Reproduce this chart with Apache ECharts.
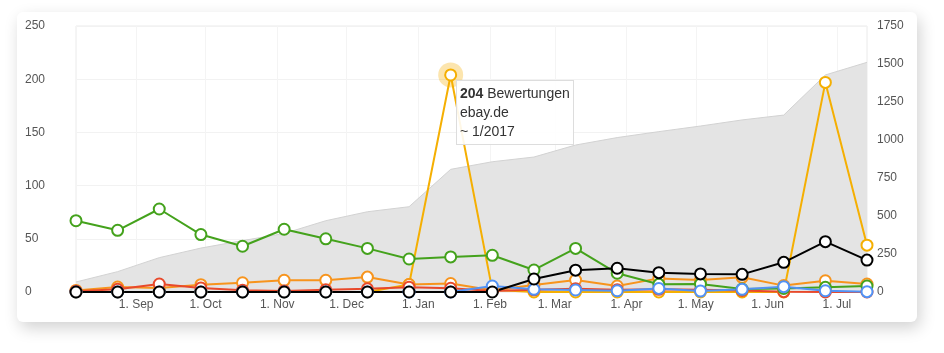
<!DOCTYPE html>
<html lang="de">
<head>
    <meta charset="UTF-8">
    <title>Bewertungen</title>
    <script src="https://cdn.jsdelivr.net/npm/echarts@6/dist/echarts.min.js"></script>
    <style>
        html, body {
            margin: 0;
            border: 0;
            background: #fff;
        }

        #card {
            position: absolute;
            left: 17px;
            top: 12px;
            width: 900px;
            height: 310px;
            background: #fff;
            border-radius: 6px;
            box-shadow: 3px 6px 16px rgba(0, 0, 0, 0.18);
        }

        #chart {
            position: absolute;
            left: 0;
            top: 0;
            width: 944px;
            height: 353px;
        }
    </style>
</head>
<body>
<div id="card"></div>
<div id="chart"></div>
<script type="text/javascript">
    // one point roughly every 18 days
    const dates = ['2016-08-06', '2016-08-24', '2016-09-11', '2016-09-29', '2016-10-17', '2016-11-04',
        '2016-11-22', '2016-12-10', '2016-12-28', '2017-01-15', '2017-02-02', '2017-02-20', '2017-03-10',
        '2017-03-28', '2017-04-15', '2017-05-03', '2017-05-21', '2017-06-08', '2017-06-26', '2017-07-14'];
    const months = ['Jan', 'Feb', 'Mar', 'Apr', 'May', 'Jun', 'Jul', 'Aug', 'Sep', 'Oct', 'Nov', 'Dec'];

    // right axis: running total
    const total = [66, 134, 226, 289, 338, 385, 469, 528, 561, 807, 857, 888, 967, 1016, 1055, 1092, 1132, 1164, 1428, 1511];

    const ebayDe = [0, 0, 0, 0, 0, 0, 0, 0, 7, 204, 2, 0, 0, 0, 0, 0, 0, 0, 197, 44];
    const orange = [1.5, 4.7, 3.8, 6.9, 8.7, 11, 11, 14, 7, 8, 1.6, 6.6, 11.3, 5.6, 12.8, 11.3, 13.8, 6, 10.6, 7.5];
    const red = [0.6, 2.5, 7.5, 3.8, 1.6, 1, 2, 3, 4.5, 3.5, 1, 2, 3, 2, 2.5, 2, 1.5, 0.3, 0, 0];
    const green = [67, 58, 78, 54, 43, 59, 50, 41, 31, 33, 34.5, 20.7, 41, 17.6, 7.2, 7.5, 2.8, 3.4, 4.4, 5.6];
    const blue = [0, 0, 0, 0, 0, 0, 0, 0, 0, 0, 5.6, 2.5, 1.9, 1.2, 3.4, 0.9, 2.5, 5, 1.2, 0.3];
    const black = [0, 0, 0, 0, 0, 0, 0, 0, 0, 0, 0, 12.2, 20.5, 22.3, 18.2, 17, 16.6, 27.9, 47.3, 30];

    const tipIndex = 9;
    const font = "'Liberation Sans', Arial, Helvetica, sans-serif";

    const ts = d => new Date(d + 'T00:00:00').getTime();
    const pairs = values => values.map((v, i) => [ts(dates[i]), v]);

    function lineSeries(name, values, color) {
        return {
            name: name,
            type: 'line',
            data: pairs(values),
            symbol: 'circle',
            symbolSize: 11,
            lineStyle: {color: color, width: 2},
            itemStyle: {color: '#fff', borderColor: color, borderWidth: 2},
            emphasis: {disabled: true}
        };
    }

    window.onload = () => {
        const chart = echarts.init(document.querySelector('#chart'));
        const option = {
            animation: false,
            textStyle: {fontFamily: font},
            grid: {
                left: 76, right: 77, top: 26, bottom: 61,
                show: true, borderColor: '#ebebeb', borderWidth: 1
            },
            tooltip: {
                trigger: 'item',
                alwaysShowContent: true,
                transitionDuration: 0,
                backgroundColor: 'rgba(255,255,255,0.9)',
                borderColor: '#ddd',
                borderWidth: 1,
                padding: [3, 3],
                extraCssText: 'box-shadow:none;border-radius:0;',
                textStyle: {fontFamily: font, fontSize: 14, color: '#333'},
                position: point => [point[0] + 5, point[1] + 5],
                formatter: params => {
                    const d = new Date(params.value[0]);
                    return `<div style="line-height:19px;font-size:14px;color:#333">` +
                        `<b>${params.value[1]}</b> Bewertungen<br/>${params.seriesName}<br/>` +
                        `~ ${d.getMonth() + 1}/${d.getFullYear()}</div>`;
                }
            },
            xAxis: {
                type: 'time',
                min: ts(dates[0]),
                max: ts(dates[dates.length - 1]),
                minInterval: 28 * 864e5,
                maxInterval: 31 * 864e5,
                axisLine: {show: false},
                axisTick: {show: false},
                splitLine: {show: true, lineStyle: {color: '#f4f4f4'}},
                axisLabel: {
                    color: '#555',
                    fontSize: 12,
                    margin: 7,
                    showMinLabel: false,
                    showMaxLabel: false,
                    hideOverlap: false,
                    formatter: value => {
                        const d = new Date(value);
                        return d.getDate() + '. ' + months[d.getMonth()];
                    }
                }
            },
            yAxis: [{
                type: 'value',
                min: 0, max: 250, interval: 50,
                axisLine: {show: false},
                axisTick: {show: false},
                splitLine: {lineStyle: {color: '#f2f2f2'}},
                axisLabel: {color: '#555', fontSize: 12, align: 'left', margin: 51}
            }, {
                type: 'value',
                min: 0, max: 1750, interval: 250,
                axisLine: {show: false},
                axisTick: {show: false},
                splitLine: {show: false},
                axisLabel: {color: '#555', fontSize: 12, align: 'left', margin: 10, formatter: v => String(v)}
            }],
            series: [
                {
                    name: 'Gesamt',
                    type: 'line',
                    yAxisIndex: 1,
                    data: pairs(total),
                    showSymbol: false,
                    silent: true,
                    tooltip: {show: false},
                    lineStyle: {color: '#d2d2d2', width: 1},
                    areaStyle: {color: '#e4e4e4', opacity: 1},
                    z: 1
                },
                {
                    name: 'halo',
                    type: 'scatter',
                    data: [[ts(dates[tipIndex]), ebayDe[tipIndex]]],
                    symbolSize: 25,
                    silent: true,
                    tooltip: {show: false},
                    itemStyle: {color: 'rgba(245,175,2,0.4)'}
                },
                lineSeries('ebay.de', ebayDe, '#f5af02'),
                lineSeries('amazon.de', orange, '#f7941d'),
                lineSeries('idealo.de', red, '#e8492b'),
                lineSeries('trustedshops.de', green, '#44a21c'),
                lineSeries('google.de', blue, '#5192f5'),
                lineSeries('shop', black, '#000')
            ]
        };
        chart.setOption(option, true);
        chart.dispatchAction({type: 'showTip', seriesIndex: 2, dataIndex: tipIndex});
    }
</script>
</body>
</html>
